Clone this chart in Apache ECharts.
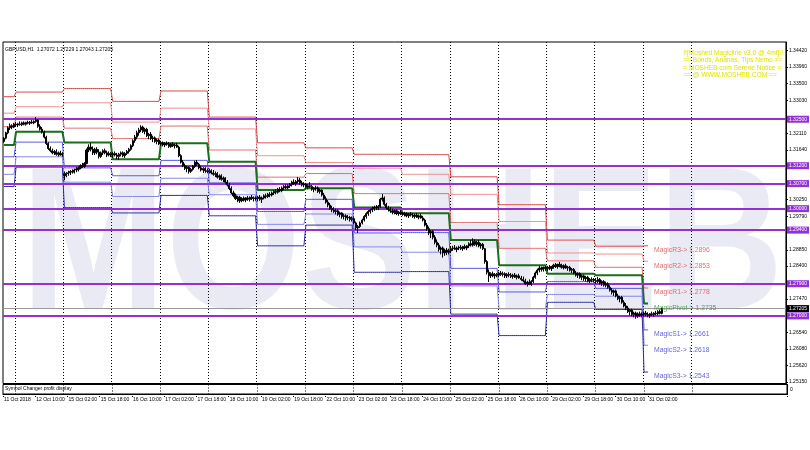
<!DOCTYPE html>
<html><head><meta charset="utf-8">
<script src="https://cdn.jsdelivr.net/npm/echarts@6/dist/echarts.min.js"></script>
<style>html,body{margin:0;padding:0;background:#fff}#c{width:810px;height:450px}</style>
</head><body><div id="c"></div>
<script>
// ---------- data ----------
const days = ['11 Oct','12 Oct','15 Oct','16 Oct','17 Oct','18 Oct','19 Oct','22 Oct','23 Oct','24 Oct','25 Oct','26 Oct','29 Oct','30 Oct','31 Oct','1 Nov','2 Nov'];
const xTickLabels = ['11 Oct 2018','12 Oct 10:00','15 Oct 02:00','15 Oct 18:00','16 Oct 10:00','17 Oct 02:00','17 Oct 18:00','18 Oct 10:00','19 Oct 02:00','19 Oct 18:00','22 Oct 10:00','23 Oct 02:00','23 Oct 18:00','24 Oct 10:00','25 Oct 02:00','25 Oct 18:00','26 Oct 10:00','29 Oct 02:00','29 Oct 18:00','30 Oct 10:00','31 Oct 02:00'];
const yTickLabels = [1.34420,1.33960,1.33500,1.33030,1.32110,1.31640,1.30250,1.29790,1.28850,1.28400,1.27470,1.27000,1.26540,1.26080,1.25620,1.25150];
const hLevels = [1.32500,1.31200,1.30700,1.30000,1.29400,1.27900,1.27000];
const bidPrice = 1.27205;

// hourly bars [open, high, low, close], one array per trading day
const bars11 = [[1.3188,1.3200,1.3184,1.3197],[1.3197,1.3215,1.3194,1.3212],[1.3212,1.3230,1.3208,1.3226],[1.3226,1.3238,1.3220,1.3232],[1.3232,1.3236,1.3222,1.3228],[1.3228,1.3240,1.3225,1.3236]];
const bars12 = [[1.3236,1.3242,1.3230,1.3234],[1.3234,1.3240,1.3228,1.3237],[1.3237,1.3244,1.3232,1.3235],[1.3235,1.3243,1.3231,1.3240],[1.3240,1.3244,1.3233,1.3236],[1.3236,1.3243,1.3232,1.3241],[1.3241,1.3246,1.3236,1.3239],[1.3239,1.3245,1.3234,1.3242],[1.3242,1.3248,1.3237,1.3240],[1.3240,1.3247,1.3236,1.3244],[1.3244,1.3256,1.3240,1.3248],[1.3248,1.3250,1.3226,1.3230],[1.3230,1.3236,1.3218,1.3222],[1.3222,1.3228,1.3210,1.3214],[1.3214,1.3218,1.3196,1.3200],[1.3200,1.3204,1.3178,1.3182],[1.3182,1.3186,1.3164,1.3168],[1.3168,1.3174,1.3158,1.3162],[1.3162,1.3168,1.3152,1.3156],[1.3156,1.3164,1.3150,1.3160],[1.3160,1.3166,1.3148,1.3152],[1.3152,1.3160,1.3146,1.3156],[1.3156,1.3162,1.3148,1.3150],[1.3150,1.3158,1.3145,1.3154]];
const bars15 = [[1.3098,1.3104,1.3080,1.3092],[1.3092,1.3102,1.3088,1.3098],[1.3098,1.3106,1.3092,1.3100],[1.3100,1.3108,1.3094,1.3104],[1.3104,1.3110,1.3098,1.3102],[1.3102,1.3112,1.3098,1.3108],[1.3108,1.3116,1.3102,1.3110],[1.3110,1.3118,1.3104,1.3114],[1.3114,1.3124,1.3110,1.3120],[1.3120,1.3128,1.3114,1.3118],[1.3118,1.3130,1.3114,1.3126],[1.3126,1.3168,1.3124,1.3164],[1.3164,1.3180,1.3158,1.3172],[1.3172,1.3184,1.3160,1.3166],[1.3166,1.3174,1.3150,1.3156],[1.3156,1.3170,1.3150,1.3166],[1.3166,1.3172,1.3152,1.3158],[1.3158,1.3166,1.3140,1.3146],[1.3146,1.3160,1.3142,1.3156],[1.3156,1.3166,1.3150,1.3162],[1.3162,1.3168,1.3152,1.3156],[1.3156,1.3162,1.3144,1.3150],[1.3150,1.3160,1.3146,1.3154],[1.3154,1.3158,1.3144,1.3150]];
const bars16 = [[1.3150,1.3158,1.3142,1.3154],[1.3154,1.3160,1.3146,1.3150],[1.3150,1.3156,1.3138,1.3146],[1.3146,1.3156,1.3136,1.3152],[1.3152,1.3160,1.3146,1.3156],[1.3156,1.3160,1.3144,1.3148],[1.3148,1.3158,1.3142,1.3154],[1.3154,1.3164,1.3150,1.3160],[1.3160,1.3170,1.3154,1.3166],[1.3166,1.3180,1.3162,1.3176],[1.3176,1.3194,1.3172,1.3190],[1.3190,1.3206,1.3184,1.3200],[1.3200,1.3218,1.3194,1.3212],[1.3212,1.3226,1.3204,1.3220],[1.3220,1.3233,1.3214,1.3228],[1.3228,1.3232,1.3212,1.3216],[1.3216,1.3226,1.3208,1.3222],[1.3222,1.3226,1.3200,1.3204],[1.3204,1.3212,1.3194,1.3208],[1.3208,1.3214,1.3192,1.3196],[1.3196,1.3204,1.3186,1.3198],[1.3198,1.3202,1.3184,1.3188],[1.3188,1.3196,1.3180,1.3192],[1.3192,1.3196,1.3178,1.3181]];
const bars17 = [[1.3181,1.3190,1.3176,1.3184],[1.3184,1.3188,1.3174,1.3178],[1.3178,1.3186,1.3172,1.3182],[1.3182,1.3188,1.3176,1.3180],[1.3180,1.3186,1.3170,1.3174],[1.3174,1.3184,1.3170,1.3180],[1.3180,1.3186,1.3172,1.3176],[1.3176,1.3182,1.3168,1.3178],[1.3178,1.3184,1.3170,1.3172],[1.3172,1.3176,1.3144,1.3148],[1.3148,1.3152,1.3126,1.3130],[1.3130,1.3136,1.3116,1.3120],[1.3120,1.3126,1.3108,1.3112],[1.3112,1.3120,1.3102,1.3116],[1.3116,1.3118,1.3098,1.3104],[1.3104,1.3114,1.3100,1.3110],[1.3110,1.3122,1.3106,1.3118],[1.3118,1.3134,1.3114,1.3130],[1.3130,1.3136,1.3120,1.3124],[1.3124,1.3128,1.3110,1.3114],[1.3114,1.3120,1.3104,1.3108],[1.3108,1.3116,1.3100,1.3112],[1.3112,1.3116,1.3100,1.3106],[1.3106,1.3112,1.3099,1.3104]];
const bars18 = [[1.3104,1.3112,1.3098,1.3106],[1.3106,1.3110,1.3096,1.3100],[1.3100,1.3108,1.3092,1.3096],[1.3096,1.3104,1.3088,1.3098],[1.3098,1.3102,1.3084,1.3088],[1.3088,1.3096,1.3080,1.3092],[1.3092,1.3096,1.3078,1.3082],[1.3082,1.3090,1.3074,1.3086],[1.3086,1.3088,1.3070,1.3074],[1.3074,1.3080,1.3062,1.3066],[1.3066,1.3072,1.3052,1.3056],[1.3056,1.3062,1.3040,1.3044],[1.3044,1.3050,1.3032,1.3036],[1.3036,1.3042,1.3024,1.3028],[1.3028,1.3036,1.3018,1.3032],[1.3032,1.3036,1.3016,1.3022],[1.3022,1.3032,1.3018,1.3028],[1.3028,1.3034,1.3020,1.3024],[1.3024,1.3032,1.3018,1.3030],[1.3030,1.3036,1.3022,1.3026],[1.3026,1.3034,1.3020,1.3032],[1.3032,1.3038,1.3024,1.3028],[1.3028,1.3034,1.3020,1.3030],[1.3030,1.3034,1.3022,1.3028]];
const bars19 = [[1.3028,1.3036,1.3020,1.3032],[1.3032,1.3038,1.3022,1.3026],[1.3026,1.3034,1.3016,1.3030],[1.3030,1.3040,1.3026,1.3036],[1.3036,1.3042,1.3028,1.3034],[1.3034,1.3044,1.3030,1.3040],[1.3040,1.3046,1.3032,1.3038],[1.3038,1.3048,1.3034,1.3044],[1.3044,1.3052,1.3038,1.3048],[1.3048,1.3054,1.3040,1.3046],[1.3046,1.3058,1.3042,1.3054],[1.3054,1.3060,1.3046,1.3050],[1.3050,1.3062,1.3046,1.3058],[1.3058,1.3066,1.3052,1.3062],[1.3062,1.3068,1.3054,1.3058],[1.3058,1.3068,1.3054,1.3064],[1.3064,1.3072,1.3058,1.3068],[1.3068,1.3078,1.3062,1.3074],[1.3074,1.3082,1.3066,1.3070],[1.3070,1.3080,1.3064,1.3076],[1.3076,1.3088,1.3070,1.3080],[1.3080,1.3086,1.3066,1.3072],[1.3072,1.3078,1.3062,1.3066],[1.3066,1.3074,1.3060,1.3068]];
const bars22 = [[1.3068,1.3072,1.3056,1.3060],[1.3060,1.3068,1.3054,1.3064],[1.3064,1.3074,1.3058,1.3062],[1.3062,1.3066,1.3050,1.3054],[1.3054,1.3060,1.3046,1.3056],[1.3056,1.3064,1.3050,1.3058],[1.3058,1.3062,1.3044,1.3048],[1.3048,1.3056,1.3042,1.3052],[1.3052,1.3054,1.3034,1.3038],[1.3038,1.3044,1.3024,1.3028],[1.3028,1.3034,1.3014,1.3018],[1.3018,1.3024,1.3004,1.3010],[1.3010,1.3016,1.2996,1.3000],[1.3000,1.3008,1.2990,1.2996],[1.2996,1.3004,1.2988,1.2992],[1.2992,1.3000,1.2984,1.2994],[1.2994,1.2998,1.2980,1.2984],[1.2984,1.2992,1.2976,1.2988],[1.2988,1.2990,1.2972,1.2978],[1.2978,1.2986,1.2970,1.2980],[1.2980,1.2984,1.2966,1.2974],[1.2974,1.2982,1.2968,1.2976],[1.2976,1.2980,1.2964,1.2970],[1.2970,1.2978,1.2964,1.2972]];
const bars23 = [[1.2972,1.2976,1.2956,1.2960],[1.2960,1.2964,1.2940,1.2946],[1.2946,1.2954,1.2932,1.2950],[1.2950,1.2964,1.2946,1.2960],[1.2960,1.2972,1.2956,1.2968],[1.2968,1.2982,1.2964,1.2978],[1.2978,1.2990,1.2972,1.2986],[1.2986,1.2996,1.2980,1.2992],[1.2992,1.3000,1.2986,1.2996],[1.2996,1.3006,1.2990,1.3000],[1.3000,1.3008,1.2994,1.3004],[1.3004,1.3010,1.2996,1.3002],[1.3002,1.3010,1.2996,1.3006],[1.3006,1.3030,1.3002,1.3026],[1.3026,1.3041,1.3020,1.3030],[1.3030,1.3034,1.3008,1.3012],[1.3012,1.3016,1.2998,1.3002],[1.3002,1.3008,1.2992,1.2998],[1.2998,1.3004,1.2988,1.2994],[1.2994,1.3000,1.2984,1.2990],[1.2990,1.2998,1.2984,1.2994],[1.2994,1.2998,1.2982,1.2986],[1.2986,1.2994,1.2980,1.2990],[1.2990,1.2996,1.2982,1.2988]];
const bars24 = [[1.2988,1.2991,1.2980,1.2984],[1.2984,1.2991,1.2978,1.2986],[1.2986,1.2990,1.2976,1.2980],[1.2980,1.2988,1.2974,1.2984],[1.2984,1.2990,1.2978,1.2982],[1.2982,1.2988,1.2974,1.2978],[1.2978,1.2986,1.2972,1.2982],[1.2982,1.2988,1.2974,1.2976],[1.2976,1.2984,1.2970,1.2980],[1.2980,1.2986,1.2972,1.2974],[1.2974,1.2980,1.2964,1.2968],[1.2968,1.2972,1.2950,1.2954],[1.2954,1.2960,1.2938,1.2944],[1.2944,1.2950,1.2926,1.2932],[1.2932,1.2940,1.2918,1.2936],[1.2936,1.2940,1.2914,1.2920],[1.2920,1.2926,1.2900,1.2906],[1.2906,1.2914,1.2892,1.2898],[1.2898,1.2904,1.2880,1.2886],[1.2886,1.2894,1.2872,1.2890],[1.2890,1.2894,1.2863,1.2876],[1.2876,1.2888,1.2868,1.2884],[1.2884,1.2890,1.2870,1.2878],[1.2878,1.2888,1.2872,1.2882]];
const bars25 = [[1.2882,1.2894,1.2876,1.2888],[1.2888,1.2896,1.2882,1.2890],[1.2890,1.2898,1.2884,1.2886],[1.2886,1.2894,1.2878,1.2890],[1.2890,1.2896,1.2884,1.2892],[1.2892,1.2898,1.2884,1.2888],[1.2888,1.2896,1.2882,1.2894],[1.2894,1.2900,1.2886,1.2890],[1.2890,1.2898,1.2884,1.2896],[1.2896,1.2906,1.2890,1.2902],[1.2902,1.2912,1.2894,1.2898],[1.2898,1.2917,1.2894,1.2908],[1.2908,1.2914,1.2896,1.2900],[1.2900,1.2910,1.2894,1.2906],[1.2906,1.2912,1.2892,1.2896],[1.2896,1.2904,1.2888,1.2900],[1.2900,1.2904,1.2884,1.2888],[1.2888,1.2890,1.2846,1.2852],[1.2852,1.2856,1.2816,1.2822],[1.2822,1.2830,1.2795,1.2812],[1.2812,1.2822,1.2806,1.2818],[1.2818,1.2824,1.2808,1.2812],[1.2812,1.2820,1.2804,1.2816],[1.2816,1.2820,1.2808,1.2814]];
const bars26 = [[1.2814,1.2824,1.2808,1.2820],[1.2820,1.2826,1.2812,1.2816],[1.2816,1.2824,1.2810,1.2818],[1.2818,1.2822,1.2806,1.2812],[1.2812,1.2820,1.2806,1.2816],[1.2816,1.2822,1.2808,1.2814],[1.2814,1.2820,1.2806,1.2810],[1.2810,1.2818,1.2804,1.2814],[1.2814,1.2820,1.2806,1.2808],[1.2808,1.2816,1.2802,1.2812],[1.2812,1.2818,1.2804,1.2806],[1.2806,1.2812,1.2798,1.2802],[1.2802,1.2810,1.2794,1.2798],[1.2798,1.2804,1.2786,1.2790],[1.2790,1.2798,1.2782,1.2794],[1.2794,1.2802,1.2786,1.2788],[1.2788,1.2800,1.2784,1.2796],[1.2796,1.2812,1.2792,1.2808],[1.2808,1.2824,1.2804,1.2820],[1.2820,1.2832,1.2814,1.2828],[1.2828,1.2840,1.2822,1.2834],[1.2834,1.2838,1.2824,1.2830],[1.2830,1.2838,1.2824,1.2836],[1.2836,1.2840,1.2826,1.2832]];
const bars29 = [[1.2832,1.2840,1.2826,1.2836],[1.2836,1.2842,1.2828,1.2832],[1.2832,1.2840,1.2826,1.2838],[1.2838,1.2846,1.2832,1.2842],[1.2842,1.2848,1.2834,1.2838],[1.2838,1.2846,1.2832,1.2844],[1.2844,1.2851,1.2836,1.2840],[1.2840,1.2846,1.2832,1.2836],[1.2836,1.2844,1.2830,1.2840],[1.2840,1.2846,1.2832,1.2834],[1.2834,1.2840,1.2826,1.2836],[1.2836,1.2840,1.2824,1.2828],[1.2828,1.2834,1.2820,1.2830],[1.2830,1.2834,1.2816,1.2820],[1.2820,1.2826,1.2810,1.2814],[1.2814,1.2822,1.2806,1.2818],[1.2818,1.2822,1.2804,1.2808],[1.2808,1.2816,1.2800,1.2812],[1.2812,1.2816,1.2798,1.2804],[1.2804,1.2812,1.2796,1.2808],[1.2808,1.2812,1.2794,1.2798],[1.2798,1.2806,1.2792,1.2802],[1.2802,1.2808,1.2794,1.2800],[1.2800,1.2806,1.2794,1.2799]];
const bars30 = [[1.2799,1.2806,1.2790,1.2796],[1.2796,1.2809,1.2792,1.2802],[1.2802,1.2806,1.2788,1.2792],[1.2792,1.2800,1.2784,1.2796],[1.2796,1.2800,1.2782,1.2786],[1.2786,1.2796,1.2780,1.2790],[1.2790,1.2794,1.2776,1.2780],[1.2780,1.2786,1.2768,1.2772],[1.2772,1.2778,1.2760,1.2766],[1.2766,1.2774,1.2756,1.2770],[1.2770,1.2774,1.2752,1.2756],[1.2756,1.2762,1.2744,1.2748],[1.2748,1.2756,1.2738,1.2752],[1.2752,1.2756,1.2734,1.2738],[1.2738,1.2744,1.2724,1.2728],[1.2728,1.2736,1.2716,1.2722],[1.2722,1.2728,1.2708,1.2712],[1.2712,1.2720,1.2702,1.2716],[1.2716,1.2720,1.2700,1.2704],[1.2704,1.2712,1.2696,1.2708],[1.2708,1.2712,1.2692,1.2700],[1.2700,1.2710,1.2694,1.2706],[1.2706,1.2712,1.2698,1.2702],[1.2702,1.2710,1.2696,1.2704]];
const bars31 = [[1.2704,1.2712,1.2698,1.2708],[1.2708,1.2714,1.2700,1.2704],[1.2704,1.2710,1.2696,1.2702],[1.2702,1.2708,1.2694,1.2706],[1.2706,1.2712,1.2700,1.2704],[1.2704,1.2710,1.2698,1.2708],[1.2708,1.2714,1.2702,1.2706],[1.2706,1.2716,1.2702,1.2712],[1.2712,1.2718,1.2704,1.27072],[1.27072,1.27229,1.27043,1.27205]];

// daily Magic pivot levels, one value per day (11 Oct .. 31 Oct)
const r3 = [1.3313,1.3326,1.3336,1.3300,1.3329,1.3256,1.3184,1.3170,1.3152,1.3151,1.3089,1.3011,1.2912,1.2895,1.2896];
const r2 = [1.3267,1.3285,1.3296,1.3242,1.3281,1.3223,1.3148,1.3129,1.3113,1.3096,1.3040,1.2964,1.2876,1.2873,1.2853];
const r1 = [1.3229,1.3256,1.3225,1.3196,1.3231,1.3164,1.3088,1.3098,1.3042,1.3042,1.2961,1.2889,1.2854,1.2836,1.2778];
const pv = [1.3178,1.3215,1.3185,1.3138,1.3183,1.3131,1.3052,1.3057,1.3003,1.2987,1.2912,1.2842,1.2818,1.2814,1.2735];
const s1 = [1.3145,1.3186,1.3114,1.3092,1.3135,1.3072,1.2992,1.3026,1.2932,1.2933,1.2833,1.2767,1.2796,1.2777,1.2661];
const s2 = [1.3096,1.3145,1.3074,1.3034,1.3085,1.3039,1.2956,1.2985,1.2893,1.2878,1.2784,1.2720,1.2760,1.2755,1.2618];
const s3 = [1.3062,1.3116,1.3003,1.2988,1.3037,1.2980,1.2896,1.2954,1.2822,1.2824,1.2705,1.2645,1.2738,1.2718,1.2543];
const levelNames = ['MagicR3','MagicR2','MagicR1','MagicPivot','MagicS1','MagicS2','MagicS3'];

// ---------- build ----------
const TOTAL = 389, FIRST_HOUR = 18, LEVEL_LAST_BAR = 320, LABEL_BAR = 323, LAST_GRID_BAR = 350;
const cats = [], dayOf = [];
outer: for (let d = 0; d < days.length; d++) {
  for (let h = (d === 0 ? FIRST_HOUR : 0); h < 24; h++) {
    cats.push(days[d] + ' ' + String(h).padStart(2,'0') + ':00');
    dayOf.push(d);
    if (cats.length >= TOTAL) break outer;
  }
}
const ohlc = [].concat(bars11,bars12,bars15,bars16,bars17,bars18,bars19,bars22,bars23,bars24,bars25,bars26,bars29,bars30,bars31);
const N = ohlc.length;
const candles = ohlc.map(b => [b[0], b[3], b[2], b[1]]); // echarts order: open, close, low, high
const levelArrays = [r3, r2, r1, pv, s1, s2, s3];
const levelColors = ['#d94848','#ee8c8c','#e36a6a','#1b6e1b','#5555dd','#8484ea','#2b2ba5'];
const labelColors = ['#dc4a4a','#dc4a4a','#dc4a4a','#2f8f2f','#3c3cc8','#3c3cc8','#3c3cc8'];
const lastDay = dayOf[N-1];
const FONT = 'Liberation Sans';

const purple = '#9330d6';
const markLines = hLevels.map(v => ({
  yAxis: v,
  lineStyle: { color: purple, width: 2, type: 'solid' },
  label: { show: true, position: 'end', distance: 1, formatter: v.toFixed(5),
    backgroundColor: purple, color: '#fff', fontSize: 5, padding: [1,2,1,2], fontFamily: FONT }
}));
markLines.unshift({
  yAxis: bidPrice,
  lineStyle: { color: '#9a9a9a', width: 1, type: 'solid' },
  label: { show: true, position: 'end', distance: 1, formatter: bidPrice.toFixed(5),
    backgroundColor: '#000', color: '#fff', fontSize: 5, padding: [1,2,1,2], fontFamily: FONT }
});

const levelSeries = levelArrays.map((arr, k) => {
  const s = {
    type: 'line', xAxisIndex: 0, yAxisIndex: 0, silent: true, symbol: 'none', z: 3,
    lineStyle: { color: levelColors[k], width: k === 3 ? 2 : 1 },
    data: dayOf.slice(0, LEVEL_LAST_BAR + 1).map(d => arr[d])
  };
  if (k === 0) s.markLine = { silent: true, symbol: 'none', animation: false, precision: 5, data: markLines };
  return s;
});
const labelSeries = {
  type: 'scatter', xAxisIndex: 0, yAxisIndex: 0, symbolSize: 0, silent: true, z: 6,
  data: levelArrays.map((arr, k) => ({
    value: [LABEL_BAR, arr[lastDay]],
    label: { show: true, position: 'inside', align: 'left', verticalAlign: 'top', offset: [0, 1],
      formatter: levelNames[k] + '-> ' + arr[lastDay].toFixed(4),
      color: labelColors[k], fontSize: 6.8, fontFamily: FONT }
  }))
};

const chart = echarts.init(document.getElementById('c'), null, { renderer: 'canvas' });
const axisFont = { fontSize: 5, color: '#000', fontFamily: FONT };
const dayLine = (i) => i > 0 && i < LAST_GRID_BAR && (i - 6) % 24 === 0;
chart.setOption({
  animation: false,
  backgroundColor: '#fff',
  graphic: [
    { type: 'text', left: 21, top: 151, z: 0, silent: true, scaleX: 0.86,
      style: { text: 'MOSHEB', font: 'bold 202px "Liberation Sans"', fill: '#e9eaf3' } },
    { type: 'text', left: 5, top: 47, z: 10, style: { text: 'GBPUSD,H1  1.27072 1.27229 1.27043 1.27205', font: '5px "Liberation Sans"', fill: '#000' } },
    { type: 'text', right: 27, top: 49, z: 10, style: { text: '!![Moshed Magicline v3.0 @ 4mf]!!\n== Bonds, Ananas, Tips Nemo ==\n= MOSHEB.com Serene Notice =\n== @ WWW.MOSHEB.COM ==', font: '6.6px "Liberation Sans"', fill: '#e2e200', align: 'right', lineHeight: 7.5 } },
    { type: 'text', left: 5, top: 386, z: 10, style: { text: 'Symbol Changer profit display', font: '5px "Liberation Sans"', fill: '#000' } }
  ],
  grid: [
    { left: 3, right: 23, top: 42, height: 341.5, show: true, borderColor: '#000', borderWidth: 1 },
    { left: 3, right: 23, top: 384.5, height: 9.5, show: true, borderColor: '#000', borderWidth: 1 }
  ],
  xAxis: [
    { type: 'category', gridIndex: 0, data: cats, boundaryGap: true,
      axisLine: { show: false }, axisTick: { show: false }, axisLabel: { show: false },
      splitLine: { show: true, interval: dayLine, lineStyle: { color: '#000', type: [1, 2], width: 1 } } },
    { type: 'category', gridIndex: 1, data: cats, boundaryGap: true,
      axisLine: { show: true, lineStyle: { color: '#000' } },
      axisTick: { show: true, interval: (i) => i % 16 === 0 && i < N, length: 3, lineStyle: { color: '#000', type: [1,1] } },
      axisLabel: Object.assign({ interval: (i) => i % 16 === 0 && i / 16 < xTickLabels.length, formatter: (v, i) => xTickLabels[i / 16] || '',
        align: 'left', margin: 3, showMinLabel: true, hideOverlap: false }, axisFont),
      splitLine: { show: true, interval: dayLine, lineStyle: { color: '#000', type: [1, 2], width: 1 } } }
  ],
  yAxis: [
    { type: 'value', gridIndex: 0, position: 'right', min: 1.2511, max: 1.3466,
      axisLine: { show: true, lineStyle: { color: '#000' } },
      axisTick: { show: true, length: 2, customValues: yTickLabels, lineStyle: { color: '#000' } },
      axisLabel: Object.assign({ customValues: yTickLabels, formatter: v => v.toFixed(5), margin: 3 }, axisFont),
      splitLine: { show: false } },
    { type: 'value', gridIndex: 1, position: 'right', min: 0, max: 1,
      axisLine: { show: true, lineStyle: { color: '#000' } },
      axisTick: { show: false },
      axisLabel: Object.assign({ customValues: [0.5], formatter: () => '0', margin: 3 }, axisFont),
      splitLine: { show: false } }
  ],
  series: [
    ...levelSeries,
    { type: 'candlestick', xAxisIndex: 0, yAxisIndex: 0, z: 5, barWidth: 1.6,
      itemStyle: { color: '#000', color0: '#000', borderColor: '#000', borderColor0: '#000', borderWidth: 1 },
      data: candles },
    labelSeries
  ]
});
</script></body></html>
